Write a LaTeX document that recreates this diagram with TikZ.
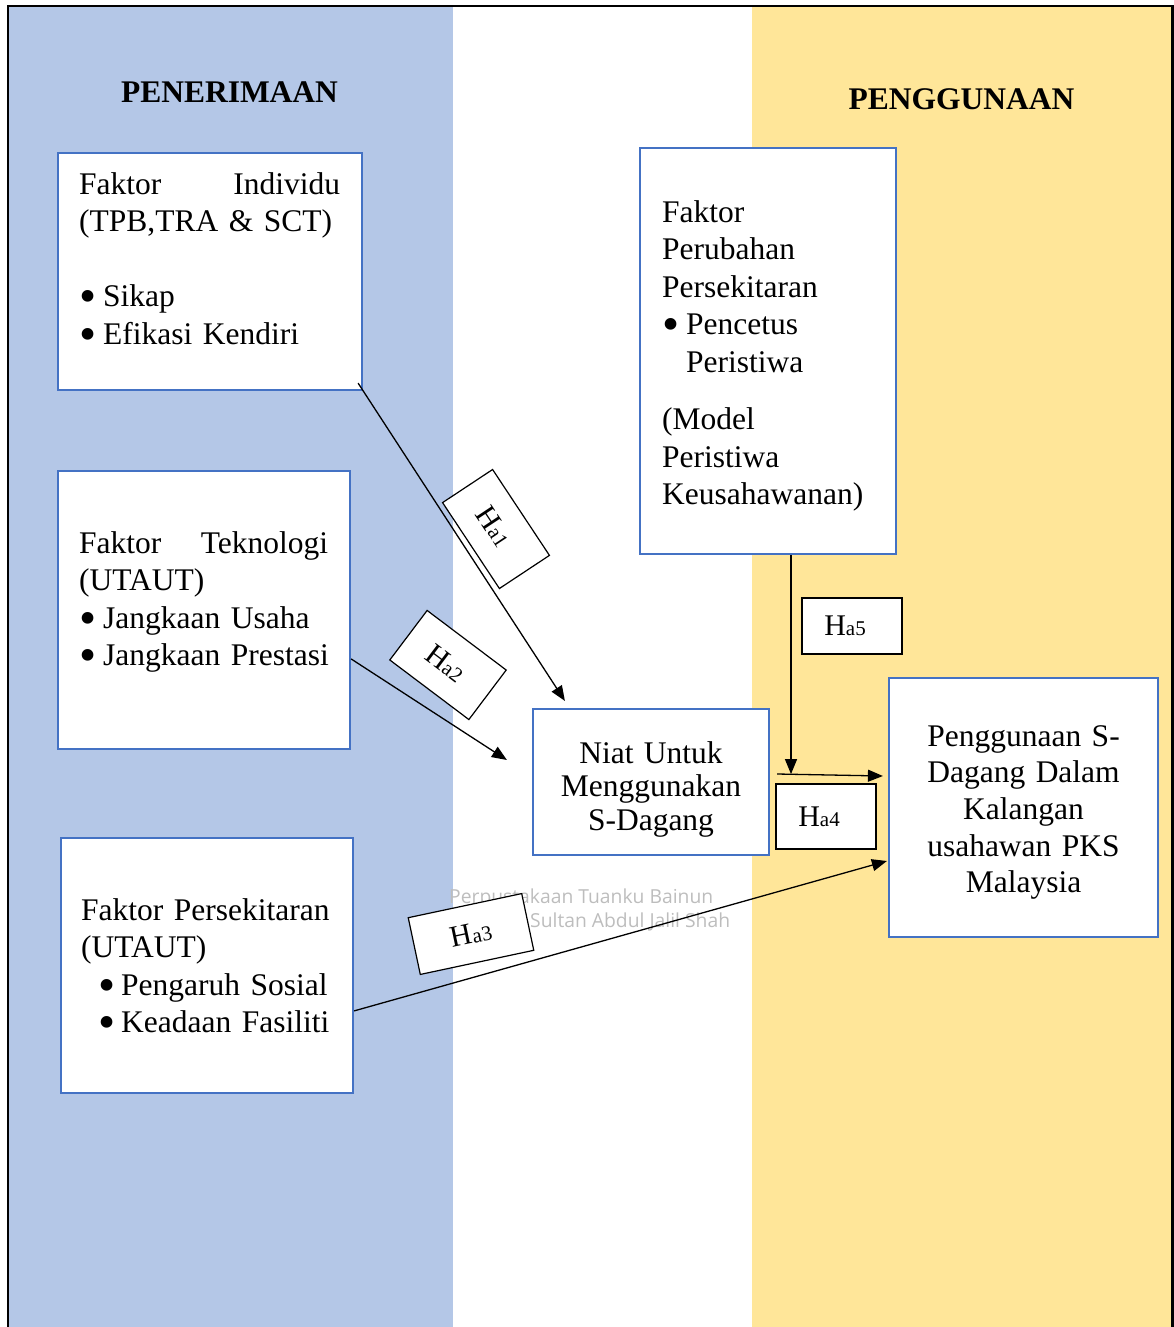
\documentclass[tikz,border=0pt]{standalone}
\usepackage{fontspec}
\setmainfont{Liberation Serif}
\newfontfamily\wmfont{Open Sans}
\usetikzlibrary{arrows.meta,calc}
\definecolor{bandblue}{HTML}{B4C7E7}
\definecolor{bandyellow}{HTML}{FFE699}
\definecolor{boxblue}{HTML}{4472C4}
\definecolor{wmgray}{HTML}{BDBDBD}
\newcommand\hsmall[1]{{\fontsize{21}{21}\selectfont #1}}
\newcommand\bigdot{\raisebox{-6pt}{\scalebox{1.55}{\textbullet}}}
\newcommand\bul{\makebox[24pt][l]{\bigdot}}

\begin{document}
\begin{tikzpicture}[x=1pt,y=-1pt,
  bluebox/.style={draw=boxblue, line width=2.2pt, fill=white, inner sep=0, rectangle},
  hbox/.style={draw=black, line width=1.2pt, fill=white, inner sep=0,
               font=\fontsize{30}{30}\selectfont},
  body/.style={inner sep=0, anchor=base west, align=left, text width=290pt,
               font=\fontsize{31.5}{37.5}\selectfont},
  title/.style={inner sep=0, anchor=base, font=\fontsize{31.5}{38}\selectfont\bfseries},
  link/.style={line width=1.3pt, -{Triangle[length=15pt,width=12pt]}},
  wmark/.style={inner sep=0, anchor=base west, text=wmgray,
                font=\wmfont\fontsize{19.3}{22}\selectfont}
]
\useasboundingbox (0,0) rectangle (1174,1327);

% background bands and outer frame
\fill[bandblue] (8,6) rectangle (453,1327);
\fill[bandyellow] (752,6) rectangle (1172,1327);
\draw[line width=2.6pt] (8,1327) -- (8,6) -- (1172.5,6) -- (1172.5,1327);

% column headings
\node[title] (accept) at (229.5,103) {PENERIMAAN};
\node[title] (usage) at (961.5,110) {PENGGUNAAN};

% library watermark
\node[wmark] (wm1) at (449,903) {Perpustakaan Tuanku Bainun};
\node[wmark] (wm2) at (530,927) {Sultan Abdul Jalil Shah};

% factor boxes
\node[bluebox, minimum width=304, minimum height=237] (indiv) at (210,271.5) {};
\node[body] (indivtxt) at (79,194)
  {\makebox[261pt][s]{Faktor\hfill Individu}\\
   (TPB,TRA \& SCT)\\[37.5pt]
   \bul Sikap\\
   \bul Efikasi Kendiri};

\node[bluebox, minimum width=292, minimum height=278] (techno) at (204,610) {};
\node[body] (technotxt) at (79,553)
  {\makebox[249pt][s]{Faktor\hfill Teknologi}\\
   (UTAUT)\\
   \bul Jangkaan Usaha\\
   \bul Jangkaan Prestasi};

\node[bluebox, minimum width=292, minimum height=255] (env) at (207,965.5) {};
\node[body] (envtxt) at (81,920)
  {Faktor Persekitaran\\
   (UTAUT)\\
   \hspace*{17pt}\makebox[23pt][l]{\bigdot}Pengaruh Sosial\\
   \hspace*{17pt}\makebox[23pt][l]{\bigdot}Keadaan Fasiliti};

\node[bluebox, minimum width=256, minimum height=406] (change) at (768,351) {};
\node[body] (changetxt) at (662,222)
  {Faktor\\
   Perubahan\\
   Persekitaran\\
   \bul Pencetus\\
   \hspace*{24pt}Peristiwa\\[20pt]
   (Model\\
   Peristiwa\\
   Keusahawanan)};

\node[bluebox, minimum width=236, minimum height=146] (niat) at (651,782) {};
\node[inner sep=0, anchor=base, align=center, text width=230pt,
      font=\fontsize{31.5}{33.5}\selectfont] (niattxt) at (651,763)
  {Niat Untuk\\ Menggunakan\\ S-Dagang};

\node[bluebox, minimum width=269, minimum height=259] (usebox) at (1023.5,807.5) {};
\node[inner sep=0, anchor=base, align=center, text width=262pt,
      font=\fontsize{31.5}{36.7}\selectfont] (usetxt) at (1023.5,746)
  {Penggunaan S-\\ Dagang Dalam\\ Kalangan\\ usahawan PKS\\ Malaysia};

% hypothesised paths
\draw[link] ($(indiv.south east)+(-5,-8)$) -- ($(niat.north west)+(33,-7)$);
\draw[link] ($(techno.north east)+(0,189)$) -- ($(niat.west)+(-25,-22)$);
\draw[link] ($(env.north east)+(0,174)$) -- ($(usebox.west)+(-1,53.5)$);
\draw[link] ($(niat.east)+(7,-8)$) -- ($(usebox.west)+(-5,-31.5)$);
\draw[link] ($(change.south)+(23,0)$) -- ($(change.south)+(23,219)$);

% hypothesis labels
\node[hbox, minimum width=103, minimum height=60, rotate=-56.5] (h1) at (496,529) {H\hsmall{a1}\hspace*{6pt}};
\node[hbox, minimum width=99, minimum height=62, rotate=-37] (h2) at (448,665) {H\hsmall{a2}\hspace*{6pt}};
\node[hbox, minimum width=116, minimum height=58, rotate=12] (h3) at (471,934) {H\hsmall{a3}};
\node[hbox, minimum width=100, minimum height=65] (h4) at (826,816.5) {H\hsmall{a4}\hspace*{14pt}};
\node[hbox, minimum width=100, minimum height=56] (h5) at (852,626) {H\hsmall{a5}\hspace*{14pt}};
\end{tikzpicture}
\end{document}
